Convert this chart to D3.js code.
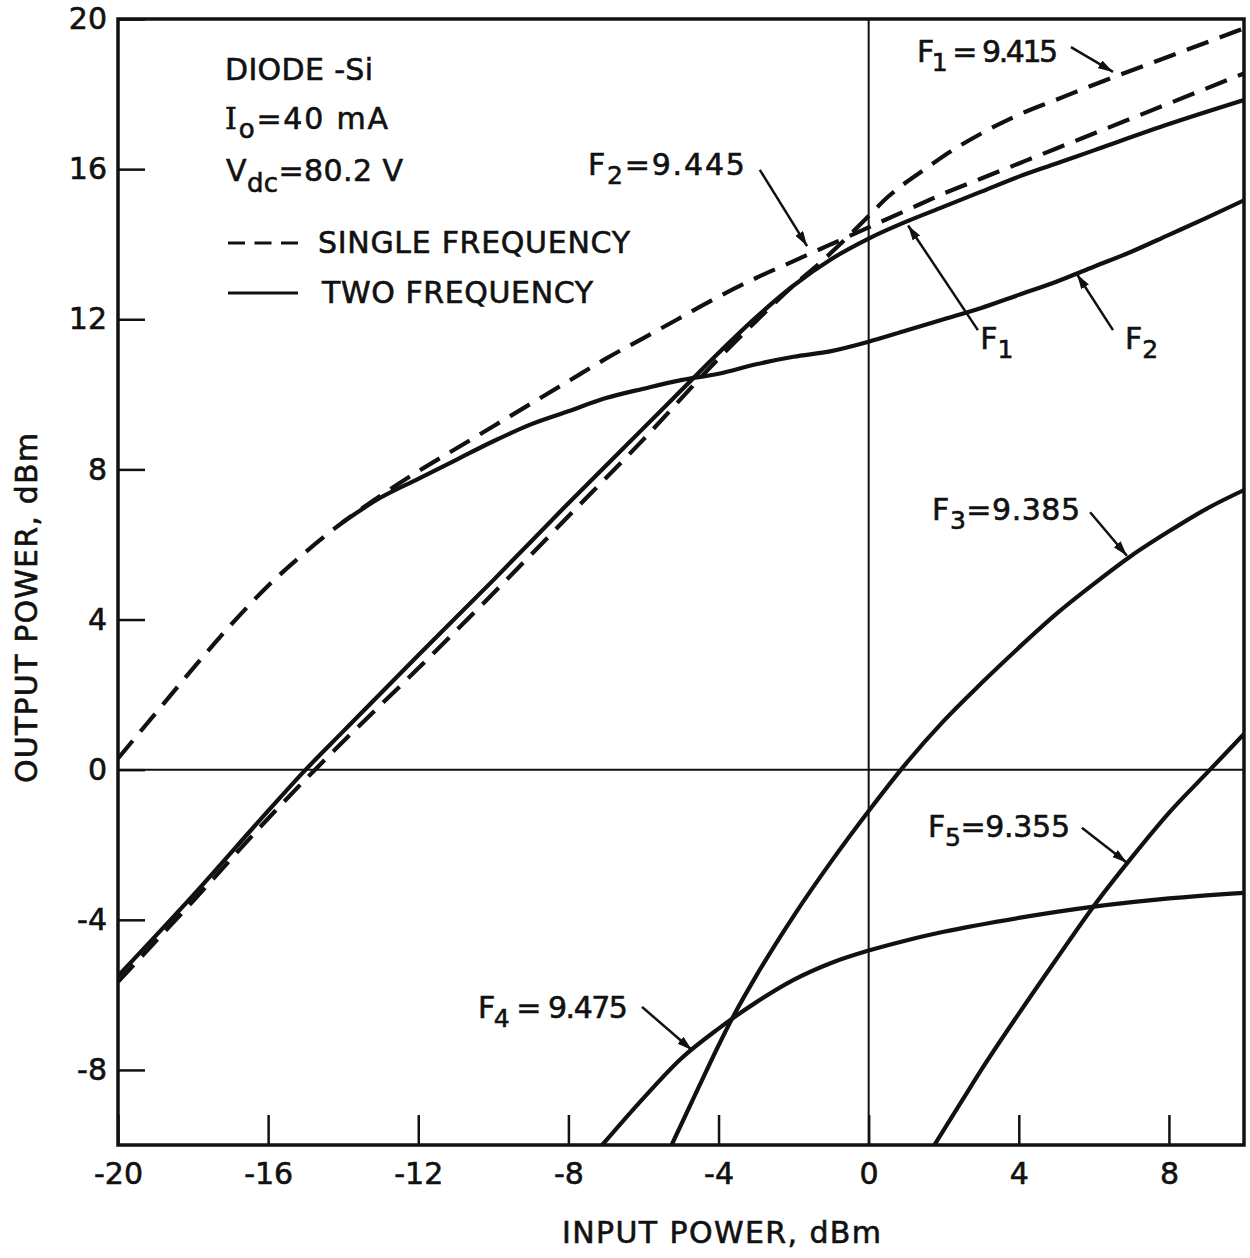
<!DOCTYPE html>
<html>
<head>
<meta charset="utf-8">
<script src="https://cdn.jsdelivr.net/npm/d3@7"></script>
<style>
body { margin: 0; background: #fff; }
text { font-family: "DejaVu Sans", sans-serif; fill: #111; stroke: #111; stroke-width: 0.6px; }
</style>
</head>
<body>
<div id="chart"></div>
<script>
// curves: [input dBm, output dBm]
var f1Single = [[-20,-5.65],[-18,-3.5],[-16,-1.3],[-14.75,0],[-14,0.75],[-12,2.7],[-10,4.7],[-8,6.75],[-6,8.8],[-4,10.95],[-3,11.95],[-2,12.9],[-1.3,13.5],[-0.5,14.25],[0,14.75],[0.5,15.25],[1,15.65],[1.5,16.0],[2,16.35],[3,16.95],[4,17.45],[5,17.85],[6,18.25],[8,19.0],[10,19.75]];
var f2Single = [[-20,0.3],[-19,1.5],[-18,2.7],[-17,3.85],[-16,4.9],[-15,5.8],[-14,6.6],[-13,7.3],[-12,7.95],[-11,8.55],[-10,9.15],[-9,9.75],[-8,10.35],[-7,10.95],[-6,11.5],[-5,12.05],[-4,12.6],[-3,13.1],[-2,13.55],[-1,14.0],[0,14.45],[1,14.9],[2,15.35],[3,15.75],[4,16.15],[5,16.55],[6,16.95],[8,17.75],[10,18.55]];
var f1Two = [[-20,-5.5],[-18,-3.35],[-16,-1.1],[-15,0],[-14,1.02],[-12,3.05],[-10,5.05],[-8,7.1],[-6,9.1],[-5,10.1],[-4,11.1],[-3,12.05],[-2,12.9],[-1,13.6],[0,14.15],[1,14.6],[2,15.0],[3,15.4],[4,15.8],[5,16.15],[6,16.5],[8,17.2],[10,17.84]];
var f2Two = [[-14,6.6],[-13,7.25],[-12,7.75],[-11,8.25],[-10,8.75],[-9,9.2],[-8,9.55],[-7,9.9],[-6,10.15],[-5,10.38],[-4,10.55],[-3,10.8],[-2,11.0],[-1,11.15],[0,11.4],[1,11.7],[2,12.0],[3,12.3],[4,12.65],[5,13.0],[6,13.4],[7,13.8],[8,14.25],[9,14.7],[10,15.17]];
var f3Two = [[-5.25,-10],[-4.5,-8.4],[-4,-7.35],[-3.6,-6.56],[-3,-5.5],[-2,-3.9],[-1,-2.45],[0,-1.1],[1,0.17],[2,1.3],[3,2.3],[4,3.25],[5,4.15],[6,4.95],[7,5.7],[8,6.35],[9,6.95],[10,7.45]];
var f4Two = [[-7.1,-10],[-6,-8.75],[-5,-7.7],[-4,-6.9],[-3,-6.2],[-2,-5.6],[-1,-5.15],[0,-4.82],[1,-4.55],[2,-4.32],[4,-3.95],[6,-3.65],[8,-3.43],[10,-3.28]];
var f5Two = [[1.75,-10],[2.5,-8.8],[3,-8.0],[4,-6.5],[5,-5.05],[6,-3.63],[7,-2.35],[8,-1.15],[9,-0.1],[10,0.95]];

var xTicks = [-20,-16,-12,-8,-4,0,4,8];
var yTicks = [-8,-4,0,4,8,12,16,20];

// svg size and plot frame
var svgWidth = 1250, svgHeight = 1258;
var frame = {left: 118, top: 19, right: 1244, bottom: 1145};

var svg = d3.select("#chart").append("svg")
    .attr("width", svgWidth)
    .attr("height", svgHeight);

var x = d3.scaleLinear().domain([-20, 10]).range([frame.left, frame.right]);
var y = d3.scaleLinear().domain([-10, 20]).range([frame.bottom, frame.top]);

svg.append("defs").append("clipPath").attr("id", "plotClip")
  .append("rect")
    .attr("x", frame.left).attr("y", frame.top)
    .attr("width", frame.right - frame.left)
    .attr("height", frame.bottom - frame.top);

var arrowDef = svg.select("defs").append("marker")
    .attr("id", "head")
    .attr("markerUnits", "userSpaceOnUse")
    .attr("markerWidth", 16).attr("markerHeight", 10)
    .attr("refX", 15).attr("refY", 4.5)
    .attr("orient", "auto");
arrowDef.append("path").attr("d", "M0,0 L15,4.5 L0,9 Z").attr("fill", "#111");

// zero lines
svg.append("line")
    .attr("x1", x(0)).attr("x2", x(0))
    .attr("y1", frame.top).attr("y2", frame.bottom)
    .attr("stroke", "#111").attr("stroke-width", 2);
svg.append("line")
    .attr("x1", frame.left).attr("x2", frame.right)
    .attr("y1", y(0)).attr("y2", y(0))
    .attr("stroke", "#111").attr("stroke-width", 2);

// axes, ticks pointing inward
var leftAxis = d3.axisLeft(y).tickValues(yTicks).tickSize(-27).tickPadding(11)
    .tickFormat(function(d) { return String(d); });
var bottomAxis = d3.axisBottom(x).tickValues(xTicks).tickSize(-30).tickPadding(18)
    .tickFormat(function(d) { return String(d); });

var yAxisG = svg.append("g").attr("transform", "translate(" + frame.left + ",0)").call(leftAxis);
var xAxisG = svg.append("g").attr("transform", "translate(0," + frame.bottom + ")").call(bottomAxis);

[yAxisG, xAxisG].forEach(function(g) {
    g.select(".domain").remove();
    g.selectAll(".tick line").attr("stroke", "#111").attr("stroke-width", 2.5);
    g.selectAll(".tick text")
        .attr("font-family", "DejaVu Sans, sans-serif")
        .attr("font-size", 30)
        .attr("fill", "#111");
});

// frame
svg.append("rect")
    .attr("x", frame.left).attr("y", frame.top)
    .attr("width", frame.right - frame.left)
    .attr("height", frame.bottom - frame.top)
    .attr("fill", "none").attr("stroke", "#111").attr("stroke-width", 3.5);

// curves
var line = d3.line()
    .x(function(d) { return x(d[0]); })
    .y(function(d) { return y(d[1]); })
    .curve(d3.curveMonotoneX);

var curveGroup = svg.append("g").attr("clip-path", "url(#plotClip)");
var curves = [
    {data: f1Single, dashed: true},
    {data: f2Single, dashed: true},
    {data: f1Two, dashed: false},
    {data: f2Two, dashed: false},
    {data: f3Two, dashed: false},
    {data: f4Two, dashed: false},
    {data: f5Two, dashed: false}
];
curves.forEach(function(c) {
    curveGroup.append("path")
        .attr("d", line(c.data))
        .attr("fill", "none")
        .attr("stroke", "#111")
        .attr("stroke-width", 4.2)
        .attr("stroke-linecap", c.dashed ? "butt" : "round")
        .attr("stroke-dasharray", c.dashed ? "23,12" : null);
});

// annotation labels with arrows (positions in data units)
var notes = [
    {f: "F", sub: "1", rest: " = 9.415", at: [1.29, 18.85], w: 141, from: [5.39, 19.25], to: [6.51, 18.59]},
    {f: "F", sub: "2", rest: "=9.445", at: [-7.48, 15.85], w: 157, from: [-2.9, 15.98], to: [-1.64, 13.95]},
    {f: "F", sub: "1", rest: "", at: [2.97, 11.2], w: 0, from: [2.91, 11.71], to: [1.05, 14.5]},
    {f: "F", sub: "2", rest: "", at: [6.83, 11.2], w: 0, from: [6.51, 11.71], to: [5.55, 13.2]},
    {f: "F", sub: "3", rest: "=9.385", at: [1.69, 6.65], w: 148, from: [5.9, 6.86], to: [6.88, 5.7]},
    {f: "F", sub: "5", rest: "=9.355", at: [1.58, -1.79], w: 142, from: [5.68, -1.55], to: [6.88, -2.48]},
    {f: "F", sub: "4", rest: " = 9.475", at: [-10.41, -6.62], w: 150, from: [-6.04, -6.32], to: [-4.71, -7.47]}
];

notes.forEach(function(n) {
    var t = svg.append("text")
        .attr("x", x(n.at[0]))
        .attr("y", y(n.at[1]))
        .attr("font-size", 30);
    if (n.w) t.attr("textLength", n.w).attr("lengthAdjust", "spacing");
    t.append("tspan").text(n.f);
    t.append("tspan").attr("dy", 9).attr("font-size", 25).text(n.sub);
    if (n.rest) t.append("tspan").attr("dy", -9).text(n.rest);

    svg.append("line")
        .attr("x1", x(n.from[0])).attr("y1", y(n.from[1]))
        .attr("x2", x(n.to[0])).attr("y2", y(n.to[1]))
        .attr("stroke", "#111").attr("stroke-width", 2.5)
        .attr("marker-end", "url(#head)");
});

// legend block, top left
var legend = svg.append("g");

legend.append("text").attr("x", 225).attr("y", 80).attr("font-size", 30)
    .attr("textLength", 148).attr("lengthAdjust", "spacing")
    .text("DIODE -Si");

var ioText = legend.append("text").attr("x", 225).attr("y", 129).attr("font-size", 30)
    .attr("textLength", 163).attr("lengthAdjust", "spacing");
ioText.append("tspan").attr("font-family", "DejaVu Serif, serif").text("I");
ioText.append("tspan").attr("dy", 9).attr("font-size", 26).text("o");
ioText.append("tspan").attr("dy", -9).text("=40 mA");

var vText = legend.append("text").attr("x", 226).attr("y", 181).attr("font-size", 30)
    .attr("textLength", 177).attr("lengthAdjust", "spacing");
vText.append("tspan").text("V");
vText.append("tspan").attr("dy", 11).attr("font-size", 26).text("dc");
vText.append("tspan").attr("dy", -11).text("=80.2 V");

legend.append("line").attr("x1", 228).attr("x2", 298).attr("y1", 243).attr("y2", 243)
    .attr("stroke", "#111").attr("stroke-width", 3).attr("stroke-dasharray", "17,9.5");
legend.append("text").attr("x", 318).attr("y", 253).attr("font-size", 30)
    .attr("textLength", 312).attr("lengthAdjust", "spacing")
    .text("SINGLE FREQUENCY");

legend.append("line").attr("x1", 228).attr("x2", 298).attr("y1", 293).attr("y2", 293)
    .attr("stroke", "#111").attr("stroke-width", 3);
legend.append("text").attr("x", 322).attr("y", 303).attr("font-size", 30)
    .attr("textLength", 271).attr("lengthAdjust", "spacing")
    .text("TWO FREQUENCY");

// axis titles
svg.append("text")
    .attr("x", 562).attr("y", 1243)
    .attr("font-size", 30)
    .attr("textLength", 319).attr("lengthAdjust", "spacing")
    .text("INPUT POWER, dBm");

svg.append("text")
    .attr("transform", "translate(37,783) rotate(-90)")
    .attr("font-size", 30)
    .attr("textLength", 350).attr("lengthAdjust", "spacing")
    .text("OUTPUT POWER, dBm");
</script>
</body>
</html>
